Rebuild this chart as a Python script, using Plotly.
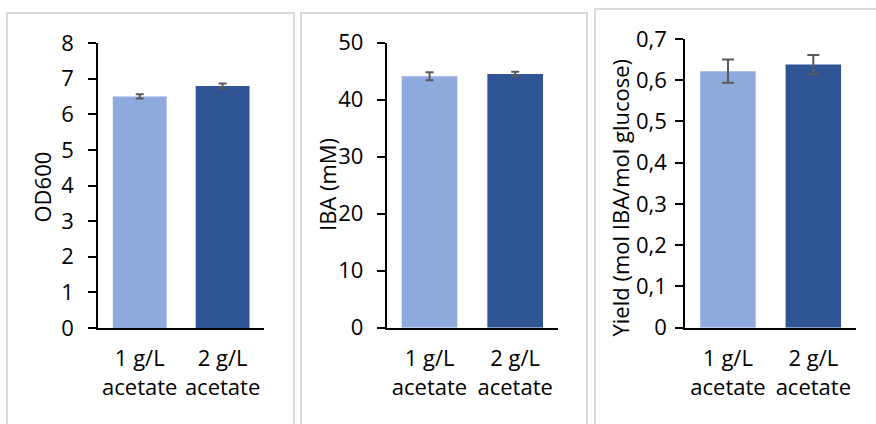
import plotly.graph_objects as go

categories = ["1 g/L<br>acetate", "2 g/L<br>acetate"]
bar_colors = ["#8FAADC", "#2F5597"]

od600 = [6.50, 6.79]
od600_err = [0.06, 0.07]
iba = [44.1, 44.5]
iba_err = [0.7, 0.4]
yield_vals = [0.622, 0.638]
yield_err = [0.028, 0.023]

W, H = 876, 424
FONT = "Open Sans"
FS = 22


def px(x):
    return x / W


def py(y):
    return 1 - y / H


fig = go.Figure()

panels = [
    dict(vals=od600, err=od600_err, cap=4, xd=[98.3, 264], yd=[43, 328], rng=[0, 8], dt=1, title="OD600", tx=41.5, ty=187, stand=10),
    dict(vals=iba, err=iba_err, cap=4, xd=[386.7, 558], yd=[42.7, 327.7], rng=[0, 50], dt=10, title="IBA (mM)", tx=327, ty=185, stand=9),
    dict(vals=yield_vals, err=yield_err, cap=6, xd=[685.3, 856], yd=[39, 327.7], rng=[0, 0.7], dt=0.1, title="Yield (mol IBA/mol glucose)", tx=619, ty=197.5, stand=4),
]

for i, p in enumerate(panels, start=1):
    xa = "x" if i == 1 else f"x{i}"
    ya = "y" if i == 1 else f"y{i}"
    fig.add_trace(go.Bar(
        x=categories, y=p["vals"], xaxis=xa, yaxis=ya,
        marker=dict(color=bar_colors, line=dict(width=0)),
        error_y=dict(type="data", array=p["err"], visible=True, color="#595959", thickness=2, width=p["cap"]),
        showlegend=False,
    ))
    xkey = "xaxis" if i == 1 else f"xaxis{i}"
    ykey = "yaxis" if i == 1 else f"yaxis{i}"
    fig.update_layout({
        xkey: dict(
            domain=[px(p["xd"][0]), px(p["xd"][1])], anchor=ya,
            showline=True, linecolor="black", linewidth=2, ticks="",
            showgrid=False, zeroline=False, automargin=False,
            ticklabelstandoff=10,
            tickfont=dict(family=FONT, size=FS, color="black"),
        ),
        ykey: dict(
            domain=[py(p["yd"][1]), py(p["yd"][0])], anchor=xa,
            range=p["rng"], dtick=p["dt"], tick0=0,
            showline=True, linecolor="black", linewidth=2,
            ticks="outside", ticklen=8, tickwidth=2, tickcolor="black",
            showgrid=False, zeroline=False, automargin=False,
            ticklabelstandoff=p["stand"],
            tickfont=dict(family=FONT, size=FS, color="black"),
        ),
    })
    fig.add_annotation(
        text=p["title"], xref="paper", yref="paper", x=px(p["tx"]), y=py(p["ty"]),
        textangle=-90, showarrow=False, xanchor="center", yanchor="middle",
        font=dict(family=FONT, size=FS, color="black"),
    )

# panel frames
frames = [(7, 294, 13), (301, 587, 13), (595, 900, 9)]
for x0, x1, y0 in frames:
    fig.add_shape(type="rect", xref="paper", yref="paper",
                  x0=px(x0), x1=px(x1), y0=py(y0), y1=-0.2,
                  line=dict(color="#D9D9D9", width=2), fillcolor="rgba(0,0,0,0)", layer="below")

fig.update_layout(
    template="none",
    width=W, height=H, margin=dict(l=0, r=0, t=0, b=0, pad=0, autoexpand=False),
    paper_bgcolor="white", plot_bgcolor="white",
    bargap=0.35, separators=", ",
    font=dict(family=FONT, size=FS, color="black"),
)

fig.write_html("out.html")
